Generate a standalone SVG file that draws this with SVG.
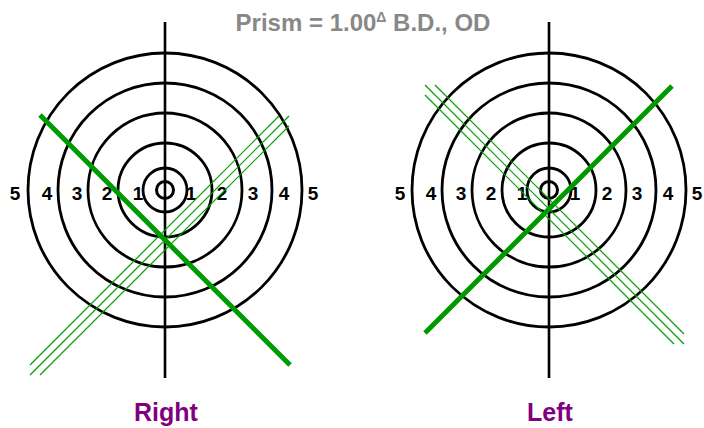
<svg xmlns="http://www.w3.org/2000/svg" width="704" height="428" viewBox="0 0 704 428">
<style>
.ring{fill:none;stroke:#000;stroke-width:2.8}
.axis{stroke:#000;stroke-width:2.6}
.num{font-family:"Liberation Sans",Arial,sans-serif;font-weight:bold;font-size:19px;fill:#000;text-anchor:middle}
.thick{stroke:#009900;stroke-width:5;stroke-linecap:butt}
.thin{stroke:#00a000;stroke-width:1.2}
.title{font-family:"Liberation Sans",Arial,sans-serif;font-weight:bold;font-size:24px;fill:#888;text-anchor:middle}
.eye{font-family:"Liberation Sans",Arial,sans-serif;font-weight:bold;font-size:25px;fill:#800080;text-anchor:middle}
</style>
<rect width="704" height="428" fill="#fff"/>
<g id="title"><text class="title" x="363" y="31">Prism = 1.00<tspan font-size="14" dy="-9">Δ</tspan><tspan dy="9"> B.D., OD</tspan></text></g>
<g id="target-right">
<circle class="ring" cx="165" cy="190" r="137"/>
<circle class="ring" cx="165" cy="190" r="107"/>
<circle class="ring" cx="165" cy="190" r="77"/>
<circle class="ring" cx="165" cy="190" r="47"/>
<circle class="ring" cx="165" cy="190" r="22"/>
<circle cx="165" cy="190" r="8.5" fill="none" stroke="#000" stroke-width="3"/>
<line class="axis" x1="165" y1="22" x2="165" y2="378"/>
<text class="num" x="15" y="200">5</text>
<text class="num" x="47" y="200">4</text>
<text class="num" x="77" y="200">3</text>
<text class="num" x="107" y="200">2</text>
<text class="num" x="138" y="200">1</text>
<text class="num" x="191" y="200">1</text>
<text class="num" x="222" y="200">2</text>
<text class="num" x="253" y="200">3</text>
<text class="num" x="284" y="200">4</text>
<text class="num" x="313" y="200">5</text>
<text class="eye" x="166" y="421">Right</text>
</g>
<g id="target-left">
<circle class="ring" cx="549" cy="190" r="137"/>
<circle class="ring" cx="549" cy="190" r="107"/>
<circle class="ring" cx="549" cy="190" r="77"/>
<circle class="ring" cx="549" cy="190" r="47"/>
<circle class="ring" cx="549" cy="190" r="22"/>
<circle cx="549" cy="190" r="8.5" fill="none" stroke="#000" stroke-width="3"/>
<line class="axis" x1="549" y1="22" x2="549" y2="378"/>
<text class="num" x="400" y="200">5</text>
<text class="num" x="431" y="200">4</text>
<text class="num" x="461" y="200">3</text>
<text class="num" x="491" y="200">2</text>
<text class="num" x="522" y="200">1</text>
<text class="num" x="575" y="200">1</text>
<text class="num" x="607" y="200">2</text>
<text class="num" x="637" y="200">3</text>
<text class="num" x="668" y="200">4</text>
<text class="num" x="697" y="200">5</text>
<text class="eye" x="550" y="421">Left</text>
</g>
<g id="connectors">
<line class="thick" x1="40" y1="115" x2="290" y2="365"/>
<line class="thin" x1="30" y1="365" x2="279" y2="116"/>
<line class="thin" x1="30" y1="375" x2="289" y2="116"/>
<line class="thin" x1="40" y1="375" x2="289" y2="126"/>
<line class="thick" x1="425" y1="333" x2="672" y2="86"/>
<line class="thin" x1="435" y1="85" x2="684" y2="334"/>
<line class="thin" x1="425" y1="85" x2="684" y2="344"/>
<line class="thin" x1="425" y1="95" x2="674" y2="344"/>
</g>
</svg>
